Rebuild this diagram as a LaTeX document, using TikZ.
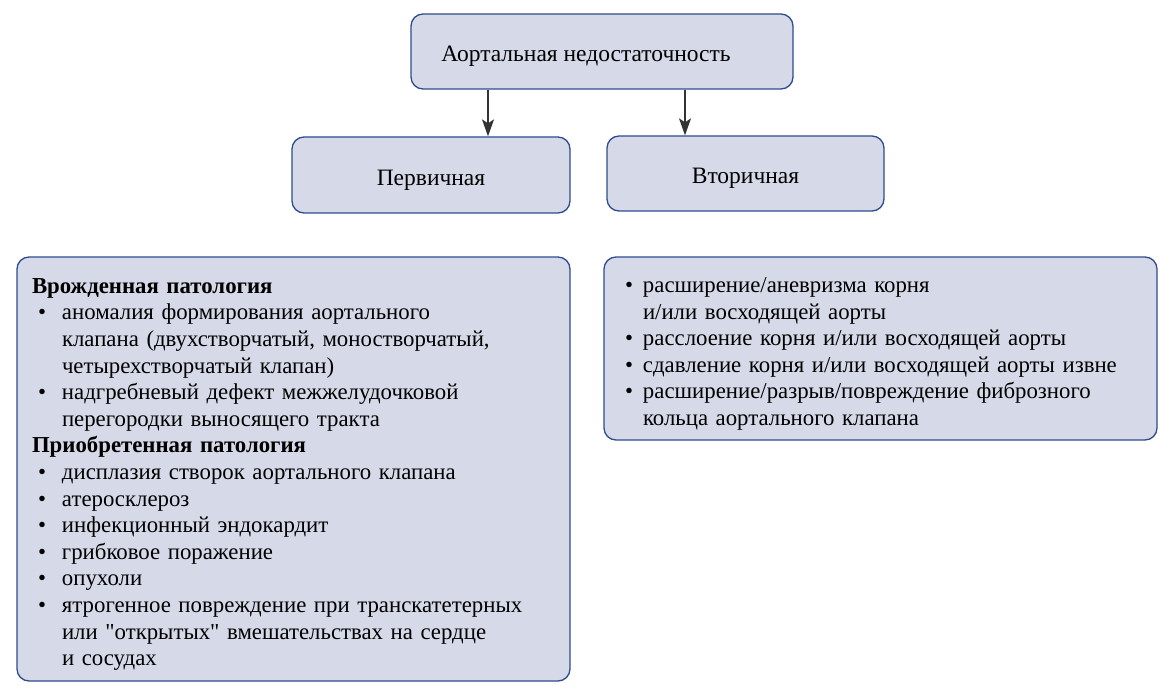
\documentclass[tikz,border=0pt]{standalone}
\usepackage{fontspec}
\setmainfont{Liberation Serif}
\usepackage{tikz}
\usetikzlibrary{positioning, calc, arrows.meta}
\definecolor{boxfill}{HTML}{D6DAE8}
\definecolor{boxline}{HTML}{2E4C8E}
\definecolor{arrowgray}{HTML}{333333}
\newcommand{\bul}[1][24pt]{\hspace*{6pt}\makebox[#1][l]{\textbullet}}
\newcommand{\ind}[1][24pt]{\hspace*{\dimexpr #1+6pt\relax}}

\tikzset{
  box/.style={draw=boxline, fill=boxfill, line width=1.3pt, rounded corners=12pt},
  headbox/.style={box, font=\fontsize{23.5}{26}\selectfont, text height=21pt, text depth=0pt},
  listbox/.style={box, align=left, inner xsep=15pt, inner ysep=0pt,
    font=\fontsize{22.8}{26.6}\selectfont},
  link/.style={arrowgray, line width=1.4pt, -{Stealth[length=17pt,width=12pt,inset=4pt]}}
}

\begin{document}
\begin{tikzpicture}[x=1pt,y=-1pt]
\useasboundingbox (0,0) rectangle (1175,695);
\node[headbox, minimum width=382pt, minimum height=75pt] (aorta) at (602,51.5) {Аортальная недостаточность\hspace*{32pt}};
\node[headbox, minimum width=278pt, minimum height=76pt] (prim) at (431,175) {Первичная};
\node[headbox, minimum width=277pt, minimum height=75pt] (sec) at (745.5,173.5) {Вторичная};

\draw[link] ([xshift=-114pt]aorta.south) -- ([xshift=-114pt]aorta.south |- prim.north);
\draw[link] ([xshift=83pt]aorta.south) -- ([xshift=83pt]aorta.south |- sec.north);

% causes, primary
\node[listbox, minimum width=553pt, minimum height=424pt, text width=523pt] (primlist) at (293.5,469) {%
\rule{0pt}{26pt}\textbf{Врожденная патология}\\
\bul аномалия формирования аортального\\
\ind клапана (двухстворчатый, моностворчатый,\\
\ind четырехстворчатый клапан)\\
\bul надгребневый дефект межжелудочковой\\
\ind перегородки выносящего тракта\\
\textbf{Приобретенная патология}\\
\bul дисплазия створок аортального клапана\\
\bul атеросклероз\\
\bul инфекционный эндокардит\\
\bul грибковое поражение\\
\bul опухоли\\
\bul ятрогенное повреждение при транскатетерных\\
\ind или \textquotedbl открытых\textquotedbl{} вмешательствах на сердце\\
\ind и сосудах};

% causes, secondary
\node[listbox, minimum width=553pt, minimum height=183pt, text width=523pt] (seclist) at (880.5,348.5) {%
\rule{0pt}{26pt}\bul[18pt]расширение/аневризма корня\\
\ind[18pt]и/или восходящей аорты\\
\bul[18pt]расслоение корня и/или восходящей аорты\\
\bul[18pt]сдавление корня и/или восходящей аорты извне\\
\bul[18pt]расширение/разрыв/повреждение фиброзного\\
\ind[18pt]кольца аортального клапана};
\end{tikzpicture}
\end{document}
